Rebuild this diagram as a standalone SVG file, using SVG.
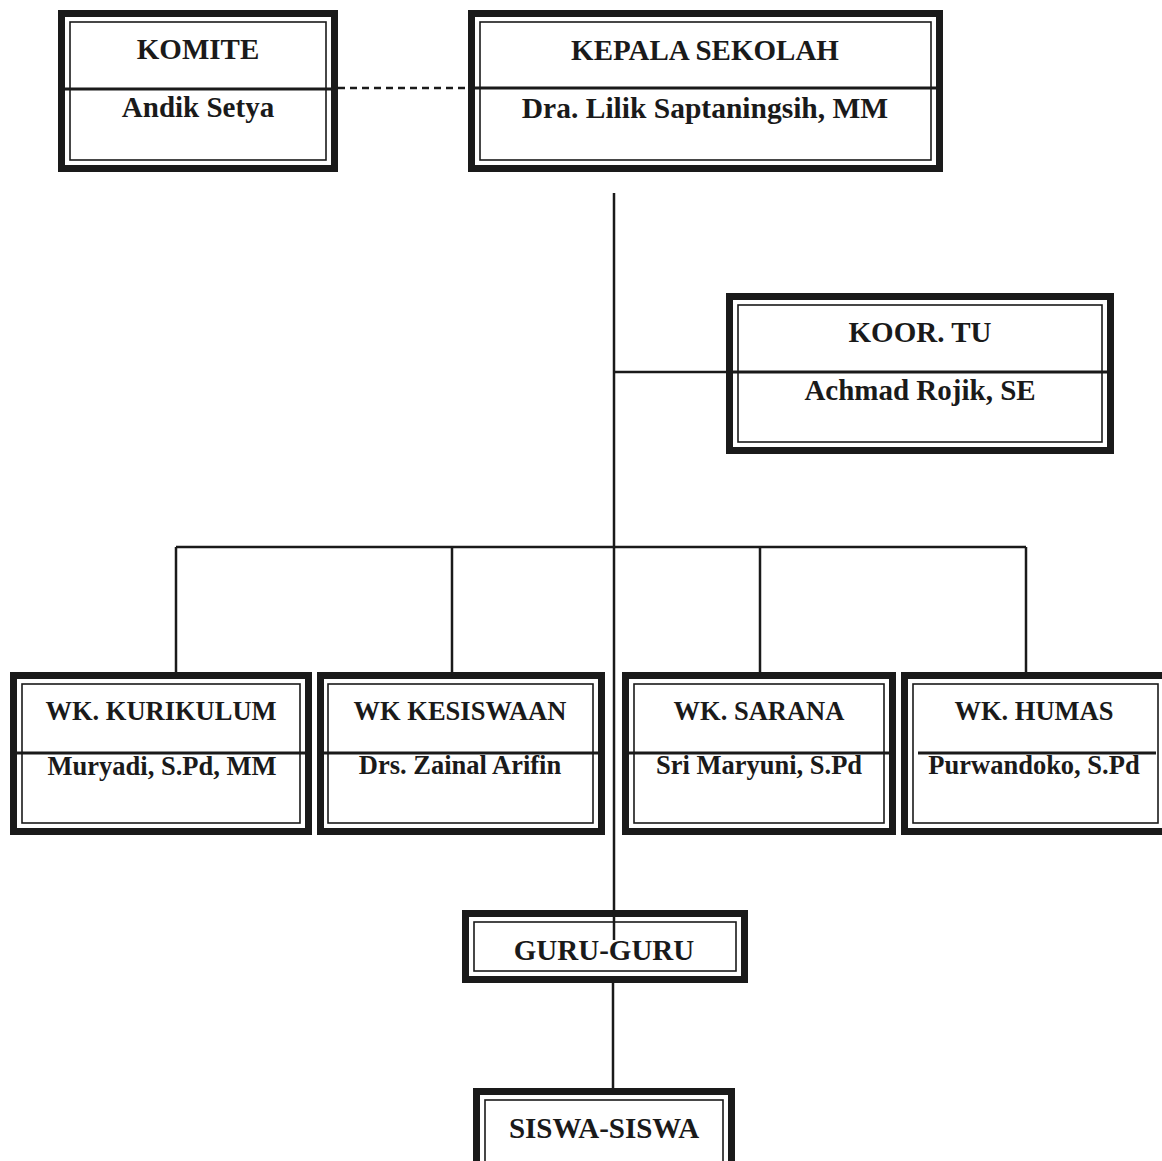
<svg xmlns="http://www.w3.org/2000/svg" width="1162" height="1161" viewBox="0 0 1162 1161">
<style>
.o{fill:#fff;stroke:#1a1a1a;stroke-width:7}
.i{fill:none;stroke:#1a1a1a;stroke-width:1.6}
.d{stroke:#1a1a1a;stroke-width:3}
.c{stroke:#1a1a1a;stroke-width:2.5;fill:none}
text{font-family:"Liberation Serif","Times New Roman",serif;font-weight:bold;fill:#1a1a1a;text-anchor:middle}
.t{font-size:29px}
.s{font-size:26.5px}
</style>
<rect width="1162" height="1161" fill="#fff"/>
<g id="komite">
<rect class="o" x="61.5" y="13.5" width="273" height="155"/>
<rect class="i" x="70" y="22" width="256" height="138"/>
<line class="d" x1="58" y1="89" x2="338" y2="89"/>
<text class="t" x="198" y="59">KOMITE</text>
<text class="t" x="198" y="117">Andik Setya</text>
</g>
<g id="kepala">
<rect class="o" x="471.5" y="13.5" width="468" height="155"/>
<rect class="i" x="480" y="22" width="451" height="138"/>
<line class="d" x1="468" y1="88" x2="943" y2="88"/>
<text class="t" x="705" y="60">KEPALA SEKOLAH</text>
<text class="t" x="705" y="118" style="font-size:29.5px">Dra. Lilik Saptaningsih, MM</text>
</g>
<g id="koor-tu">
<rect class="o" x="729.5" y="296.5" width="381" height="154"/>
<rect class="i" x="738" y="305" width="364" height="137"/>
<line class="d" x1="726" y1="372" x2="1114" y2="372"/>
<text class="t" x="920" y="342">KOOR. TU</text>
<text class="t" x="920" y="400">Achmad Rojik, SE</text>
</g>
<g id="wk-kurikulum">
<rect class="o" x="13.5" y="675.5" width="295" height="156"/>
<rect class="i" x="22" y="684" width="278" height="139"/>
<line class="d" x1="10" y1="753" x2="312" y2="753"/>
<text class="s" x="161" y="720">WK. KURIKULUM</text>
<text class="s" x="162" y="775">Muryadi, S.Pd, MM</text>
</g>
<g id="wk-kesiswaan">
<rect class="o" x="320.5" y="675.5" width="281" height="156"/>
<rect class="i" x="328" y="684" width="265" height="139"/>
<line class="d" x1="317" y1="753" x2="605" y2="753"/>
<text class="s" x="460" y="720">WK KESISWAAN</text>
<text class="s" x="460" y="774">Drs. Zainal Arifin</text>
</g>
<g id="wk-sarana">
<rect class="o" x="625.5" y="675.5" width="267" height="156"/>
<rect class="i" x="634" y="684" width="250" height="139"/>
<line class="d" x1="622" y1="753" x2="896" y2="753"/>
<text class="s" x="759" y="720">WK. SARANA</text>
<text class="s" x="759" y="774">Sri Maryuni, S.Pd</text>
</g>
<g id="wk-humas">
<rect class="o" x="904.5" y="675.5" width="262" height="156"/>
<rect class="i" x="913" y="684" width="245" height="139"/>
<line class="d" x1="918" y1="753" x2="1156" y2="753"/>
<text class="s" x="1034" y="720">WK. HUMAS</text>
<text class="s" x="1034" y="774">Purwandoko, S.Pd</text>
</g>
<g id="guru">
<rect class="o" x="465.5" y="913.5" width="279" height="66"/>
<rect class="i" x="474" y="922" width="262" height="49"/>
<text class="t" x="604" y="960">GURU-GURU</text>
</g>
<g id="siswa">
<rect class="o" x="476.5" y="1091.5" width="255" height="80"/>
<rect class="i" x="485" y="1100" width="238" height="70"/>
<text class="t" x="604" y="1138">SISWA-SISWA</text>
</g>
<g id="connectors">
<line class="c" x1="338" y1="88" x2="468" y2="88" stroke-dasharray="7,5"/>
<line class="c" x1="614" y1="193" x2="614" y2="940"/>
<line class="c" x1="614" y1="372" x2="726" y2="372"/>
<line class="c" x1="176" y1="547" x2="1026" y2="547"/>
<line class="c" x1="176" y1="547" x2="176" y2="672"/>
<line class="c" x1="452" y1="547" x2="452" y2="672"/>
<line class="c" x1="760" y1="547" x2="760" y2="672"/>
<line class="c" x1="1026" y1="547" x2="1026" y2="672"/>
<line class="c" x1="613" y1="983" x2="613" y2="1088"/>
</g>
</svg>
